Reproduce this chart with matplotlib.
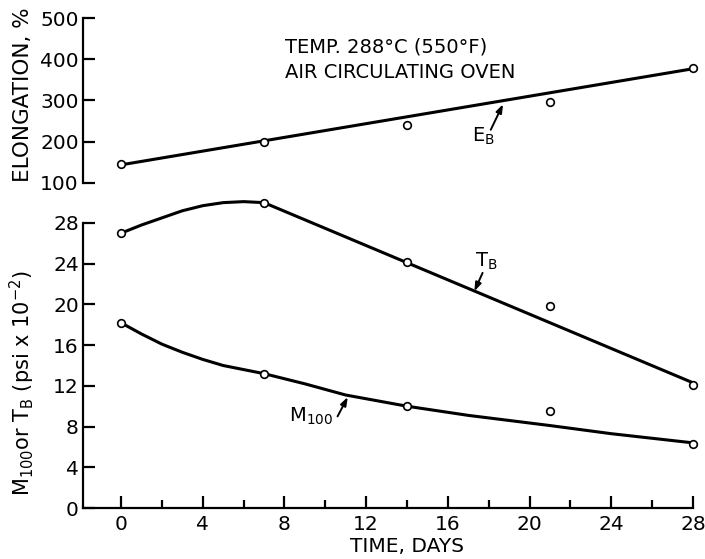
import matplotlib
matplotlib.use("Agg")
import matplotlib.pyplot as plt

# ---- data ----
days = [0, 7, 14, 21, 28]
elongation = [145, 200, 240, 297, 380]
tb_points = [27.0, 30.0, 24.2, 19.8, 12.1]
m100_points = [18.2, 13.2, 10.0, 9.5, 6.3]

# hand-drawn curves
elong_curve_days = [0, 28]
elong_curve = [144, 377]
tb_curve_days = [0, 1, 2, 3, 4, 5, 6, 7, 28]
tb_curve = [27.0, 27.8, 28.5, 29.2, 29.7, 30.0, 30.1, 30.0, 12.3]
m100_curve_days = [0, 1, 2, 3, 4, 5, 6, 7, 9, 11, 14, 17, 21, 24, 28]
m100_curve = [18.2, 17.1, 16.1, 15.3, 14.6, 14.0, 13.6, 13.2, 12.2, 11.1, 10.0, 9.1, 8.1, 7.3, 6.4]

x_major = [0, 4, 8, 12, 16, 20, 24, 28]
x_minor = [2, 6, 10, 14, 18, 22, 26]
elong_ticks = [100, 200, 300, 400, 500]
strength_ticks = [0, 4, 8, 12, 16, 20, 24, 28]

plt.rcParams['font.family'] = ['DejaVu Sans']
plt.rcParams['mathtext.default'] = 'regular'

W, H = 705, 559
fig = plt.figure(figsize=(W / 100, H / 100), dpi=100)

left = 83 / W
width = (693 - 83) / W
ax_top = fig.add_axes([left, 1 - 183 / H, width, (183 - 18) / H])
ax_bot = fig.add_axes([left, 1 - 508 / H, width, (508 - 223) / H])

xlim = (-1.86, 28)
lw_line = 2.2
mk = dict(marker='o', ms=5.5, mfc='white', mec='black', mew=1.2, ls='none',
          clip_on=False, zorder=5)

for ax in (ax_top, ax_bot):
    ax.set_xlim(*xlim)
    for s in ('top', 'right'):
        ax.spines[s].set_visible(False)
    ax.spines['left'].set_linewidth(1.6)
    ax.spines['bottom'].set_linewidth(1.6)
    ax.tick_params(axis='y', direction='in', length=8.5, width=1.6, pad=3,
                   labelsize=14.5)

# ---- top axes: elongation ----
ax_top.set_ylim(100, 500)
ax_top.set_yticks(elong_ticks)
ax_top.spines['bottom'].set_visible(False)
ax_top.set_xticks([])
ax_top.plot(elong_curve_days, elong_curve, color='black', lw=lw_line,
            clip_on=False, solid_capstyle='round')
ax_top.plot(days, elongation, **mk)
ax_top.annotate('', xy=(18.7, 291), xytext=(18.1, 229),
                arrowprops=dict(arrowstyle='-|>,head_length=0.5,head_width=0.18',
                                color='black', lw=1.4, shrinkA=0, shrinkB=0))
ax_top.text(17.75, 213, r'E$_B$', fontsize=14, ha='center', va='center')

fig.text(285 / W, 1 - 47 / H, 'TEMP. 288°C (550°F)', fontsize=14,
         ha='left', va='center')
fig.text(285 / W, 1 - 73 / H, 'AIR CIRCULATING OVEN', fontsize=14,
         ha='left', va='center')
fig.text(23 / W, 1 - 95 / H, 'ELONGATION, %', fontsize=15.5, rotation=90,
         ha='center', va='center')

# ---- bottom axes: strength ----
ax_bot.set_ylim(0, 28)
ax_bot.set_yticks(strength_ticks)
ax_bot.set_xticks(x_major)
ax_bot.set_xticks(x_minor, minor=True)
ax_bot.tick_params(axis='x', which='major', direction='in', length=8.5,
                   width=1.6, pad=5, labelsize=14.5)
ax_bot.tick_params(axis='x', which='minor', direction='in', length=6,
                   width=1.6)
ax_bot.plot(tb_curve_days, tb_curve, color='black', lw=lw_line, clip_on=False,
            solid_capstyle='round', solid_joinstyle='round')
ax_bot.plot(m100_curve_days, m100_curve, color='black', lw=lw_line,
            clip_on=False, solid_capstyle='round', solid_joinstyle='round')
ax_bot.plot(days, tb_points, **mk)
ax_bot.plot(days, m100_points, **mk)

arrow = dict(arrowstyle='-|>,head_length=0.5,head_width=0.18', color='black',
             lw=1.4, shrinkA=0, shrinkB=0)
ax_bot.annotate('', xy=(17.3, 21.3), xytext=(17.7, 23.1), arrowprops=arrow)
ax_bot.text(17.9, 24.2, r'T$_B$', fontsize=14, ha='center', va='center')
ax_bot.annotate('', xy=(11.1, 10.9), xytext=(10.6, 9.0), arrowprops=arrow)
ax_bot.text(9.3, 9.0, r'M$_{100}$', fontsize=14, ha='center', va='center')

fig.text(407 / W, 1 - 546 / H, 'TIME, DAYS', fontsize=14.5,
         ha='center', va='center')
fig.text(22 / W, 1 - 383 / H, r'M$_{100}$or T$_B$ (psi x 10$^{-2}$)',
         fontsize=15, rotation=90, ha='center', va='center')

fig.savefig('out.png', dpi=100)
